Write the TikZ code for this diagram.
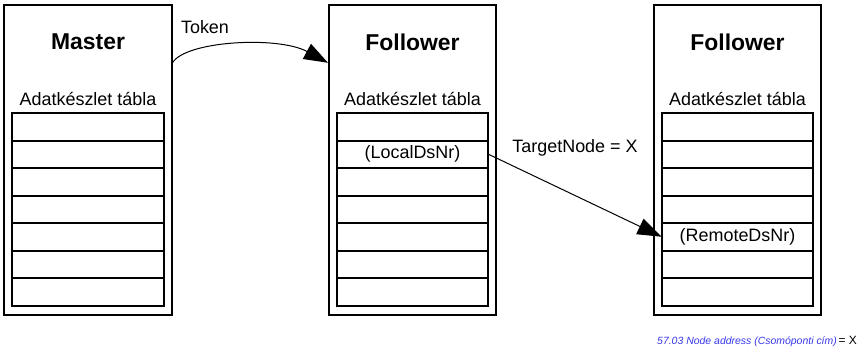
\documentclass[tikz,border=0pt]{standalone}
\usepackage{fontspec}
\setmainfont{Liberation Sans}
\usetikzlibrary{positioning,arrows.meta}
\definecolor{addrblue}{RGB}{55,55,235}
\tikzset{
  unit/.style={draw, line width=2bp, minimum width=167bp, minimum height=310bp},
  dsrow/.style={draw, line width=0.9bp, minimum width=151bp, minimum height=26.6bp, inner sep=0pt},
  dsframe/.style={draw, line width=2bp},
  msg/.style={line width=1bp, -{Triangle[length=24bp,width=17bp]}},
  txt/.style={inner sep=0pt, font=\fontsize{18}{21}\selectfont},
  heading/.style={inner sep=0pt, font=\bfseries\fontsize{23}{27}\selectfont}
}
\begin{document}
\begin{tikzpicture}[x=1bp,y=1bp]
  \useasboundingbox (0,0) rectangle (859,348);
  % the three stations with their data set tables
  \foreach \u/\x/\t in {master/88/Master, folla/412.5/Follower, follb/737.5/Follower}{
    \node[unit] (\u) at (\x,188) {};
    \node[heading] (\u-title) at (\x,306) {\t};
    \node[txt] (\u-cap) at (\x,249) {Adatkészlet tábla};
    \node[dsrow, anchor=north] (\u-1) at (\x,235) {};
    \foreach \i [count=\j from 1] in {2,...,7}
      \node[dsrow, below=0pt of \u-\j] (\u-\i) {};
    \draw[dsframe] (\u-1.north west) rectangle (\u-7.south east);
  }
  \node[txt] (localds) at (folla-2) {(LocalDsNr)};
  \node[txt] (remoteds) at (follb-5) {(RemoteDsNr)};
  % token passing
  \draw[msg] (master.49) .. controls +(13,22) and +(-50,27) .. (folla.131);
  \node[txt] (token) at (205,321) {Token};
  % data set transfer
  \draw[msg] (folla-2.east) -- (follb-5.west);
  \node[txt] (target) at (575,200) {TargetNode = X};
  % parameter note
  \node[inner sep=0pt, anchor=east] (addr) at (857,7)
    {{\color{addrblue}\fontsize{10.5}{12}\selectfont\itshape 57.03 Node address (Csomóponti cím)}\,{\fontsize{12}{14}\selectfont= X}};
\end{tikzpicture}
\end{document}
